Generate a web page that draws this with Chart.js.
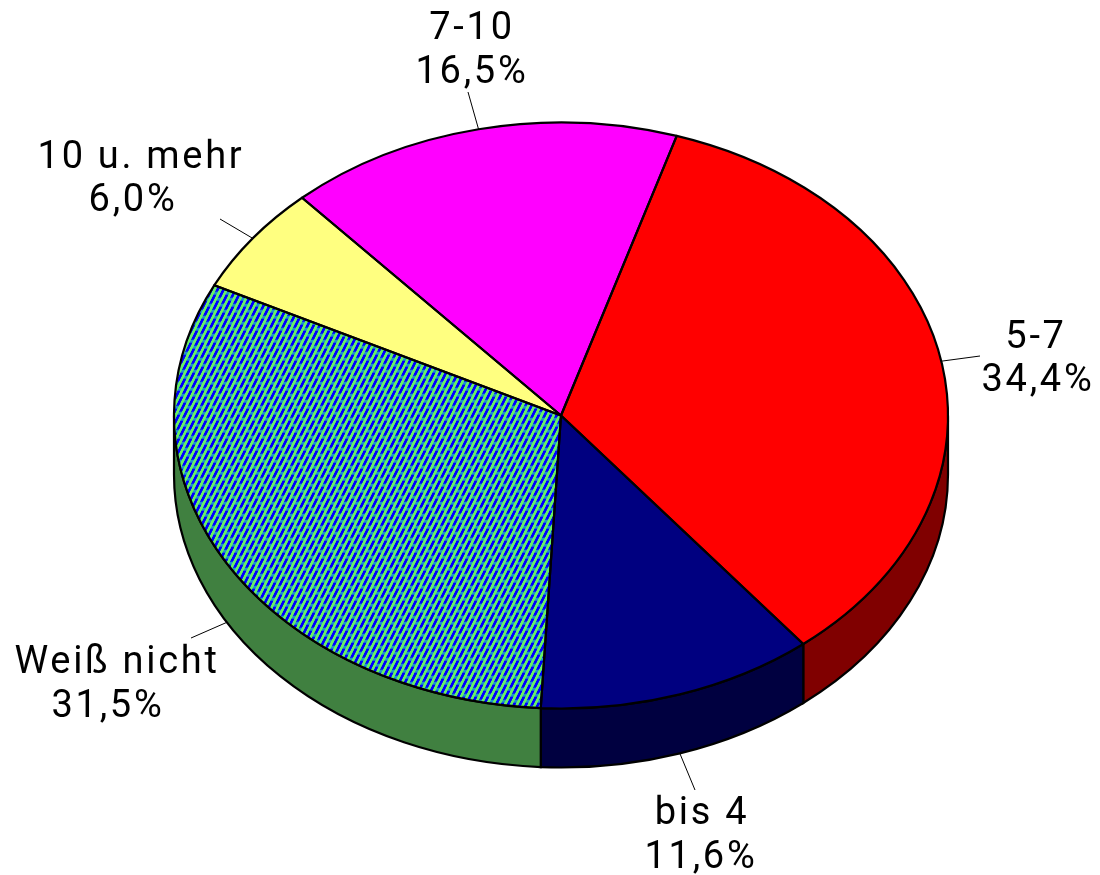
<!DOCTYPE html>
<html>
<head>
<meta charset="utf-8">
<style>
  html, body { margin: 0; padding: 0; background: #fff; }
  canvas { display: block; }
</style>
<script src="https://cdn.jsdelivr.net/npm/chart.js@4"></script>
</head>
<body>
<canvas id="pie" width="1100" height="875"></canvas>
<script>
const categories = ["5-7", "bis 4", "Weiß nicht", "10 u. mehr", "7-10"];
const shares = [34.4, 11.6, 31.5, 6.0, 16.5];
const topColors = ["#ff0000", "#000080", "hatch", "#ffff80", "#ff00ff"];
const sideColors = ["#800000", "#000040", "#408040", "#808040", "#800080"];

// tilt of the fake 3d disc
const centerY = 415.5, squash = 293 / 387, depth = 59;

// label placement: leader end, then x centre + baseline of both text rows
const labelSpots = [
  { end: [980, 356], name: [1036, 348], pct: [1038, 391], onWall: false },
  { end: [695, 790], name: [702, 824], pct: [701, 868], onWall: true },
  { end: [191, 638], name: [117, 673], pct: [108, 717], onWall: true },
  { end: [220, 219], name: [141, 168], pct: [133, 211], onWall: false },
  { end: [468, 92], name: [472, 39], pct: [472, 83], onWall: false }
];

function hatch() {
  const tile = document.createElement("canvas");
  tile.width = 12; tile.height = 24;
  const c = tile.getContext("2d");
  c.fillStyle = "#66f066";
  c.fillRect(0, 0, 12, 24);
  for (let y = 0; y < 24; y++) {
    for (let x = 0; x < 12; x++) {
      const k = (x + Math.floor(y / 2)) % 12;
      const lineA = k < 3, lineB = k >= 6 && k < 9;
      if (!lineA && !lineB) continue;
      const solid = lineA ? y % 12 < 9 : (y + 6) % 12 < 9;
      c.fillStyle = solid ? "#0000ff" : "#2090d0";
      c.fillRect(x, y, 1, 1);
    }
  }
  const p = c.createPattern(tile, "repeat");
  p.setTransform(new DOMMatrix().scale(1, 1 / squash));
  return p;
}

const disc3d = {
  id: "disc3d",
  beforeDatasetsDraw(chart) {
    const ctx = chart.ctx;
    const arcs = chart.getDatasetMeta(0).data;
    const first = arcs[0];
    const rx = first.outerRadius, ry = rx * squash;

    // side wall, only the part facing us
    arcs.forEach((a, i) => {
      [0, Math.PI * 2].forEach(turn => {
        const from = Math.max(a.startAngle, turn);
        const to = Math.min(a.endAngle, turn + Math.PI);
        if (to <= from) return;
        ctx.beginPath();
        ctx.ellipse(first.x, centerY, rx, ry, 0, from, to);
        ctx.ellipse(first.x, centerY + depth, rx, ry, 0, to, from, true);
        ctx.closePath();
        ctx.fillStyle = sideColors[i];
        ctx.fill();
        ctx.lineWidth = 2.2;
        ctx.strokeStyle = "#000";
        ctx.stroke();
      });
    });

    ctx.save();
    ctx.translate(0, centerY);
    ctx.scale(1, squash);
    ctx.translate(0, -first.y);
  },
  afterDatasetsDraw(chart) {
    const ctx = chart.ctx;
    ctx.restore();
    const arcs = chart.getDatasetMeta(0).data;
    const rx = arcs[0].outerRadius, ry = rx * squash, cx = arcs[0].x;

    arcs.forEach(a => {
      ctx.beginPath();
      ctx.moveTo(cx, centerY);
      ctx.ellipse(cx, centerY, rx, ry, 0, a.startAngle, a.endAngle);
      ctx.closePath();
      ctx.lineWidth = 2.2;
      ctx.lineJoin = "round";
      ctx.strokeStyle = "#000";
      ctx.stroke();
    });

    ctx.font = '38px Roboto';
    ctx.letterSpacing = "2.7px";
    ctx.textAlign = "center";
    ctx.textBaseline = "alphabetic";
    ctx.fillStyle = "#000";
    arcs.forEach((a, i) => {
      const spot = labelSpots[i];
      const mid = (a.startAngle + a.endAngle) / 2;
      const sx = cx + rx * Math.cos(mid);
      const sy = centerY + ry * Math.sin(mid) + (spot.onWall ? depth : 0);
      ctx.beginPath();
      ctx.moveTo(sx, sy);
      ctx.lineTo(spot.end[0], spot.end[1]);
      ctx.lineWidth = 1;
      ctx.stroke();
      ctx.fillText(categories[i], spot.name[0], spot.name[1]);
      ctx.fillText(shares[i].toFixed(1).replace(".", ",") + "%", spot.pct[0], spot.pct[1]);
    });
  }
};

new Chart(document.getElementById("pie"), {
  type: "pie",
  data: {
    labels: categories,
    datasets: [{
      data: shares,
      backgroundColor: topColors.map(c => c === "hatch" ? hatch() : c),
      borderWidth: 0
    }]
  },
  options: {
    responsive: false,
    animation: false,
    rotation: 17.4,
    layout: { padding: { left: 174, right: 152, top: 50, bottom: 51 } },
    plugins: { legend: { display: false }, tooltip: { enabled: false } }
  },
  plugins: [disc3d]
});
</script>
</body>
</html>
